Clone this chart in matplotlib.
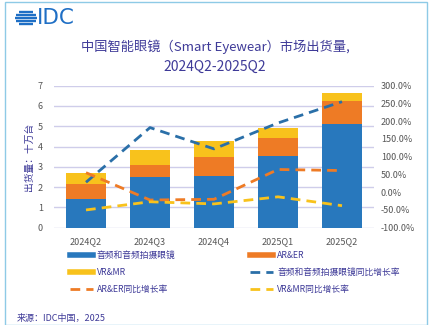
import matplotlib
matplotlib.use("Agg")
import matplotlib.pyplot as plt
import numpy as np
from matplotlib.patches import Rectangle
from matplotlib.lines import Line2D

plt.rcParams["font.family"] = ["Noto Sans CJK SC", "DejaVu Sans"]

quarters = ["2024Q2", "2024Q3", "2024Q4", "2025Q1", "2025Q2"]
audio = [1.41, 2.50, 2.56, 3.53, 5.09]
ar_er = [0.73, 0.59, 0.94, 0.87, 1.17]
vr_mr = [0.54, 0.74, 0.79, 0.50, 0.36]
audio_yoy = [28, 182, 122, 195, 255]
ar_er_yoy = [55, -22, -20, 64, 61]
vr_mr_yoy = [-50, -27, -33, -13, -38]

left_ticks = list(range(0, 8))
right_ticks = list(range(-100, 301, 50))

C_BLUE = "#2878bd"
C_ORANGE = "#ee7b25"
C_YELLOW = "#f8c21c"
C_LBLUE = "#2a6fa8"
C_TEXT = "#3e3a98"
C_TICK = "#555555"
C_GRID = "#cfcdea"

fig = plt.figure(figsize=(4.3, 3.25), dpi=100)

# frame
fig.patches.append(Rectangle((5 / 430, 0.0), 422 / 430, 0.995, transform=fig.transFigure,
                             fill=False, edgecolor="#8ecae6", linewidth=1.0))

# IDC logo
lax = fig.add_axes([15 / 430, 1 - 26 / 325, 22 / 430, 16 / 325])
lax.set_xlim(-1, 1)
lax.set_ylim(-1, 1)
lax.axis("off")
for yy in np.linspace(-0.8, 0.8, 5):
    half = np.sqrt(max(1 - yy ** 2, 0))
    lax.plot([-half, half], [yy, yy], color="#1f6fc5", linewidth=1.7, solid_capstyle="butt")
fig.text(37 / 430, 1 - 18 / 325, "IDC", fontsize=15.5, color="#1f6fc5",
         family=["DejaVu Sans"], va="center", ha="left")

fig.text(0.5, 1 - 47 / 325, "中国智能眼镜（Smart Eyewear）市场出货量,",
         ha="center", va="center", fontsize=9.5, color=C_TEXT)
fig.text(0.5, 1 - 67 / 325, "2024Q2-2025Q2", ha="center", va="center",
         fontsize=10, color=C_TEXT)

ax = fig.add_axes([54 / 430, 1 - 227.7 / 325, 320 / 430, 142 / 325])
x = np.arange(len(quarters))
w = 0.64
ax.bar(x, audio, w, color=C_BLUE, zorder=2)
ax.bar(x, ar_er, w, bottom=audio, color=C_ORANGE, zorder=2)
ax.bar(x, vr_mr, w, bottom=np.add(audio, ar_er), color=C_YELLOW, zorder=2)
ax.set_xlim(-0.5, len(quarters) - 0.5)
ax.set_ylim(0, 7)
ax.set_yticks(left_ticks)
ax.set_xticks(x)
ax.set_xticklabels(quarters)
ax.grid(axis="y", color=C_GRID, linewidth=1.0, zorder=0)
for s in ax.spines.values():
    s.set_visible(False)
ax.tick_params(axis="both", length=0, labelsize=6.5, labelcolor=C_TICK)
ax.tick_params(axis="x", pad=7)
ax.tick_params(axis="y", pad=8)
ax.set_ylabel("出货量：十万台", fontsize=7, color=C_TEXT, labelpad=3)

ax2 = ax.twinx()
ax2.set_ylim(-100, 300)
ax2.set_yticks(right_ticks)
ax2.set_yticklabels([f"{t:.1f}%" for t in right_ticks])
for s in ax2.spines.values():
    s.set_visible(False)
ax2.tick_params(axis="y", length=0, labelsize=6.5, labelcolor=C_TICK, pad=5)
dash = (0, (3.5, 2.2))
ax2.plot(x, audio_yoy, color=C_LBLUE, linewidth=2, linestyle=dash)
ax2.plot(x, ar_er_yoy, color=C_ORANGE, linewidth=2, linestyle=dash)
ax2.plot(x, vr_mr_yoy, color=C_YELLOW, linewidth=2, linestyle=dash)

labels = ["音频和音频拍摄眼镜", "VR&MR", "AR&ER同比增长率",
          "AR&ER", "音频和音频拍摄眼镜同比增长率", "VR&MR同比增长率"]
handles = [Line2D([], [], color=C_BLUE, linewidth=4),
           Line2D([], [], color=C_YELLOW, linewidth=4),
           Line2D([], [], color=C_ORANGE, linewidth=2, linestyle=dash),
           Line2D([], [], color=C_ORANGE, linewidth=4),
           Line2D([], [], color=C_LBLUE, linewidth=2, linestyle=dash),
           Line2D([], [], color=C_YELLOW, linewidth=2, linestyle=dash)]
leg = fig.legend(handles, labels, ncol=2, loc="upper left",
                 bbox_to_anchor=(62 / 430, 1 - 243 / 325), frameon=False,
                 fontsize=6.3, handlelength=2.6, columnspacing=8.5,
                 labelspacing=0.9, handletextpad=0.5)
for t in leg.get_texts():
    t.set_color(C_TEXT)

fig.text(17 / 430, 1 - 319 / 325, "来源：IDC中国，2025", fontsize=6.5,
         color=C_TEXT, va="center", ha="left")

fig.savefig("out.png", dpi=100)
